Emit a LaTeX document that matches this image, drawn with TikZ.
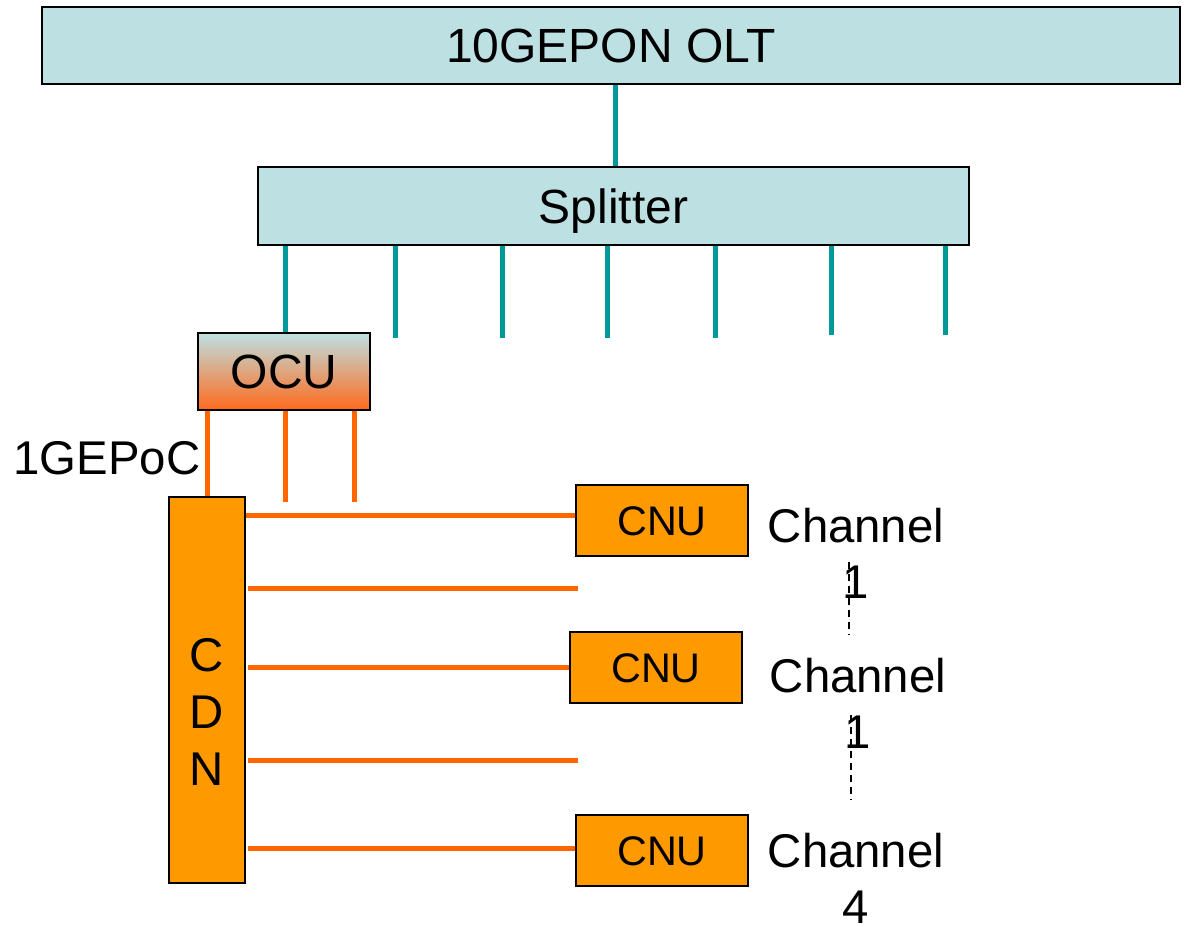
\documentclass[tikz,border=0pt]{standalone}
\usepackage{fontspec}
\setmainfont{Liberation Sans}
\definecolor{boxblue}{RGB}{189,224,226}
\definecolor{fiber}{RGB}{0,153,153}
\definecolor{coax}{RGB}{255,102,0}
\definecolor{boxorange}{RGB}{255,153,0}
\definecolor{ocubot}{RGB}{255,106,28}
\tikzset{
  bluebox/.style={draw=black, line width=1.5pt, fill=boxblue, inner sep=0pt, text height=25.8pt, text depth=0pt, font=\fontsize{36}{42}\selectfont},
  orangebox/.style={draw=black, line width=1.2pt, fill=boxorange, inner sep=0pt, text height=22.2pt, text depth=0pt, font=\fontsize{31}{37}\selectfont},
  ocubox/.style={draw=black, line width=1.5pt, top color=boxblue, bottom color=ocubot, inner sep=0pt, text height=25.8pt, text depth=0pt, font=\fontsize{36}{42}\selectfont},
  fiberline/.style={draw=fiber, line width=3.75pt},
  coaxline/.style={draw=coax, line width=3.75pt},
  lbl/.style={inner sep=0pt, align=center, font=\fontsize{35.5}{42}\selectfont},
  dots/.style={draw=black, line width=1pt, dash pattern=on 5pt off 4pt}
}
\begin{document}
\begin{tikzpicture}[x=0.75pt, y=-0.75pt]
\useasboundingbox (0,0) rectangle (1185,926);
% boxes
\node[bluebox, minimum width=853.5pt, minimum height=57.75pt] (olt) at (611,45.5) {10GEPON OLT};
\node[bluebox, minimum width=533.25pt, minimum height=58.5pt] (spl) at (613.5,206) {Splitter};
\node[ocubox, minimum width=129pt, minimum height=57.75pt] (ocu) at (284,371.5) {OCU};
\node[draw=black, line width=1.2pt, fill=boxorange, minimum width=57pt, minimum height=289.5pt, inner sep=0pt] (cdn) at (207,690) {};
\node[lbl, font=\fontsize{35.5}{43}\selectfont] (cdntext) at (207,712) {C\\D\\N};
\node[orangebox, minimum width=129pt, minimum height=53.25pt] (cnu1) at (662,520.5) {CNU};
\node[orangebox, minimum width=129pt, minimum height=53.25pt] (cnu2) at (656,667.5) {CNU};
\node[orangebox, minimum width=129pt, minimum height=53.25pt] (cnu3) at (662,850.5) {CNU};
% labels
\node[lbl] (gepoc) at (107,458) {1GEPoC};
\node[lbl] (ch1) at (856,553) {Channel\\1};
\node[lbl] (ch2) at (858,703) {Channel\\1};
\node[lbl] (ch3) at (856,878) {Channel\\4};
% fiber
\coordinate (f0) at (615,0);
\draw[fiberline] (olt.south -| f0) -- (spl.north -| f0);
\coordinate (f1) at (285,0);
\draw[fiberline] (spl.south -| f1) -- (ocu.north -| f1);
\foreach \i/\x/\y in {2/395/338, 3/502/338, 4/607/338, 5/715/338, 6/831/335, 7/945/335}{
  \coordinate (d\i) at (\x,\y);
  \draw[fiberline] (spl.south -| d\i) -- (d\i);
}
% coax from OCU
\draw[coaxline] (ocu.south -| cdn.north) -- (cdn.north);
\coordinate (o2) at (285,502);
\coordinate (o3) at (354,502);
\draw[coaxline] (ocu.south -| o2) -- (o2);
\draw[coaxline] (ocu.south -| o3) -- (o3);
% coax from CDN
\coordinate (h1) at (0,515);
\draw[coaxline] (cdn.east |- h1) -- (cnu1.west |- h1);
\coordinate (h2) at (578,588);
\draw[coaxline] ([xshift=1.5pt]cdn.east |- h2) -- (h2);
\draw[coaxline] ([xshift=1.5pt]cdn.east |- cnu2.west) -- (cnu2.west);
\coordinate (h4) at (578,760);
\draw[coaxline] ([xshift=1.5pt]cdn.east |- h4) -- (h4);
\coordinate (h5) at (0,848);
\draw[coaxline] ([xshift=1.5pt]cdn.east |- h5) -- (cnu3.west |- h5);
% dashed
\coordinate (a1) at (849,562);
\coordinate (a2) at (849,635);
\draw[dots] (a1) -- (a2);
\coordinate (b1) at (851,715);
\coordinate (b2) at (851,800);
\draw[dots] (b1) -- (b2);
\end{tikzpicture}
\end{document}
